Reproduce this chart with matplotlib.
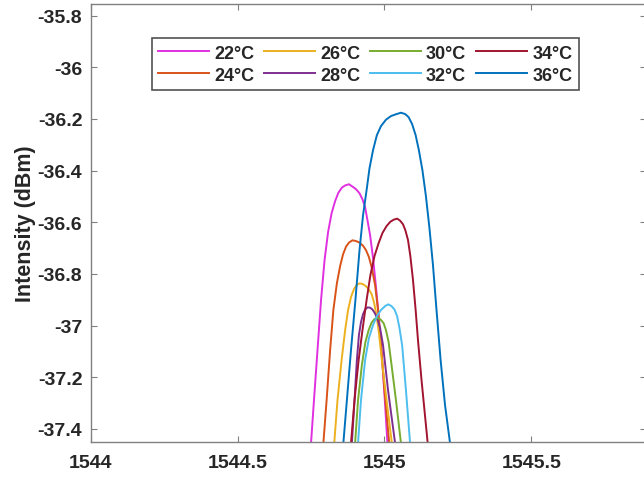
import matplotlib
matplotlib.use("Agg")
import matplotlib.pyplot as plt

labels = ["22°C", "24°C", "26°C", "28°C", "30°C", "32°C", "34°C", "36°C"]
colors = ["#E030E0", "#D95319", "#EDB120", "#7E2F8E", "#77AC30", "#4DBEEE", "#A2142F", "#0072BD"]

x22 = [1544.750, 1544.760, 1544.772, 1544.784, 1544.796, 1544.808, 1544.820, 1544.832, 1544.843, 1544.855,
       1544.867, 1544.879, 1544.891, 1544.903, 1544.915, 1544.925, 1544.934, 1544.942, 1544.951, 1544.961,
       1544.971, 1544.981, 1544.991, 1545.000, 1545.010]
y22 = [-37.455, -37.289, -37.095, -36.902, -36.747, -36.638, -36.565, -36.518, -36.486, -36.466,
       -36.457, -36.453, -36.462, -36.472, -36.488, -36.511, -36.542, -36.592, -36.650, -36.739,
       -36.851, -36.971, -37.115, -37.269, -37.455]

x24 = [1544.792, 1544.803, 1544.815, 1544.826, 1544.838, 1544.849, 1544.859, 1544.869, 1544.879, 1544.891,
       1544.903, 1544.915, 1544.927, 1544.937, 1544.947, 1544.957, 1544.968, 1544.978, 1544.988, 1545.000,
       1545.016]
y24 = [-37.455, -37.289, -37.095, -36.940, -36.836, -36.770, -36.724, -36.695, -36.679, -36.670,
       -36.673, -36.679, -36.691, -36.708, -36.735, -36.778, -36.844, -36.940, -37.076, -37.250,
       -37.455]

x26 = [1544.829, 1544.840, 1544.854, 1544.866, 1544.876, 1544.886, 1544.896, 1544.906, 1544.915, 1544.925,
       1544.935, 1544.946, 1544.956, 1544.964, 1544.973, 1544.981, 1544.991, 1545.007, 1545.025]
y26 = [-37.455, -37.289, -37.134, -37.018, -36.940, -36.890, -36.859, -36.842, -36.837, -36.839,
       -36.846, -36.859, -36.878, -36.909, -36.960, -37.029, -37.134, -37.289, -37.455]

x28 = [1544.889, 1544.898, 1544.906, 1544.913, 1544.920, 1544.927, 1544.934, 1544.942, 1544.951, 1544.959,
       1544.968, 1544.976, 1544.985, 1544.995, 1545.012, 1545.036]
y28 = [-37.455, -37.289, -37.134, -37.037, -36.987, -36.956, -36.938, -36.930, -36.931, -36.938,
       -36.954, -36.975, -37.010, -37.076, -37.250, -37.455]

x30 = [1544.900, 1544.910, 1544.923, 1544.935, 1544.946, 1544.956, 1544.966, 1544.976, 1544.986, 1544.997,
       1545.005, 1545.014, 1545.024, 1545.039, 1545.056]
y30 = [-37.455, -37.289, -37.153, -37.064, -37.018, -36.989, -36.975, -36.970, -36.976, -36.991,
       -37.018, -37.064, -37.153, -37.289, -37.455]

x32 = [1544.910, 1544.920, 1544.934, 1544.947, 1544.961, 1544.974, 1544.988, 1545.002, 1545.013, 1545.024,
       1545.034, 1545.043, 1545.051, 1545.060, 1545.073, 1545.087]
y32 = [-37.455, -37.289, -37.134, -37.049, -36.998, -36.964, -36.940, -36.925, -36.918, -36.925,
       -36.938, -36.964, -37.010, -37.076, -37.250, -37.455]

x34 = [1544.886, 1544.898, 1544.912, 1544.925, 1544.939, 1544.952, 1544.966, 1544.980, 1544.993, 1545.007,
       1545.020, 1545.032, 1545.043, 1545.053, 1545.063, 1545.071, 1545.080, 1545.088, 1545.097, 1545.106,
       1545.114, 1545.126, 1545.147]
y34 = [-37.455, -37.289, -37.134, -37.018, -36.902, -36.805, -36.731, -36.681, -36.642, -36.615,
       -36.598, -36.590, -36.586, -36.594, -36.608, -36.631, -36.669, -36.731, -36.824, -36.940,
       -37.057, -37.211, -37.455]

x36 = [1544.860, 1544.872, 1544.886, 1544.901, 1544.915, 1544.927, 1544.939, 1544.949, 1544.961, 1544.974,
       1544.988, 1545.005, 1545.022, 1545.039, 1545.056, 1545.070, 1545.082, 1545.094, 1545.106, 1545.117,
       1545.129, 1545.141, 1545.153, 1545.165, 1545.177, 1545.191, 1545.206, 1545.223]
y36 = [-37.455, -37.289, -37.095, -36.902, -36.708, -36.573, -36.476, -36.391, -36.321, -36.263,
       -36.228, -36.203, -36.189, -36.182, -36.176, -36.181, -36.193, -36.220, -36.263, -36.321,
       -36.398, -36.499, -36.623, -36.766, -36.940, -37.134, -37.308, -37.455]

xs = [x22, x24, x26, x28, x30, x32, x34, x36]
ys = [y22, y24, y26, y28, y30, y32, y34, y36]

xticks = [1544, 1544.5, 1545, 1545.5]
xticklabels = ["1544", "1544.5", "1545", "1545.5"]
yticks = [-35.8, -36, -36.2, -36.4, -36.6, -36.8, -37, -37.2, -37.4]
yticklabels = ["-35.8", "-36", "-36.2", "-36.4", "-36.6", "-36.8", "-37", "-37.2", "-37.4"]

plt.rcParams['font.family'] = ['Liberation Sans', 'DejaVu Sans']
plt.rcParams['font.weight'] = 'bold'

fig = plt.figure(figsize=(6.44, 4.81), dpi=100)
ax = fig.add_axes([0.1408, 0.0796, 0.8623, 0.910])

for xv, yv, c, lab in zip(xs, ys, colors, labels):
    ax.plot(xv, yv, color=c, lw=1.4, label=lab)

ax.set_xlim(1544, 1545.890)
ax.set_ylim(-37.45, -35.755)
ax.set_xticks(xticks)
ax.set_xticklabels(xticklabels)
ax.set_yticks(yticks)
ax.set_yticklabels(yticklabels)

ax.tick_params(axis='both', direction='in', length=4, width=0.8, color='#808080',
               labelsize=14, labelcolor='#262626', top=True, right=True)
ax.tick_params(axis='x', pad=9)
ax.tick_params(axis='y', pad=6)
for s in ax.spines.values():
    s.set_color('#808080')
    s.set_linewidth(1.0)

ax.set_ylabel("Intensity (dBm)", fontsize=15.5, fontweight='bold', color='#262626', labelpad=1)

leg = ax.legend(ncol=4, loc='upper left', bbox_to_anchor=(0.110, 0.9216), borderaxespad=0,
                fontsize=13, handlelength=2.8, handletextpad=0.3, columnspacing=0.55,
                frameon=True, fancybox=False, labelspacing=0.28, borderpad=0.35)
leg.get_frame().set_edgecolor('#262626')
leg.get_frame().set_linewidth(1.2)
for t in leg.get_texts():
    t.set_color('#262626')
    t.set_fontweight('bold')

fig.savefig("out.png", dpi=100)
